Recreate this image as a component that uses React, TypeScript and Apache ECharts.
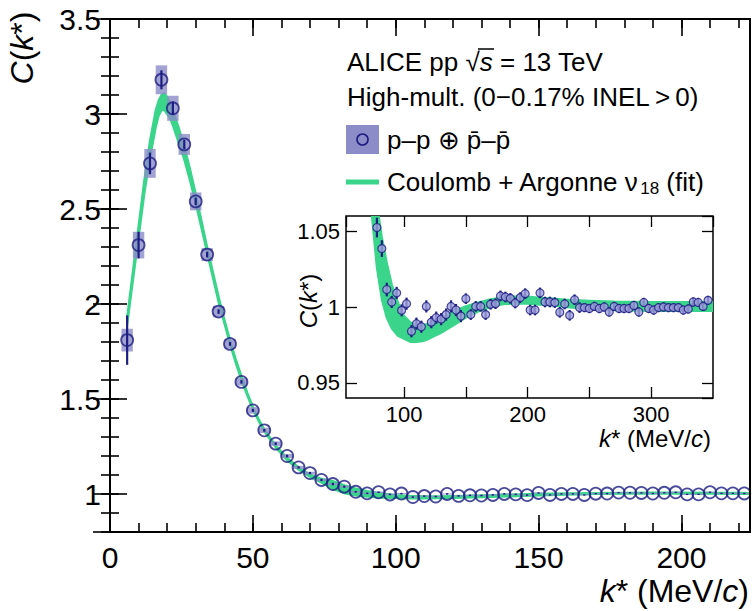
import React, { useEffect, useRef } from "react";
import * as echarts from "echarts";

// ---- data ----
const kStar = [
  6, 10, 14, 18, 22, 26, 30, 34, 38, 42, 46, 50, 54, 58, 62, 66, 70, 74, 78, 82,
  86, 90, 94, 98, 102, 106, 110, 114, 118, 122, 126, 130, 134, 138, 142, 146, 150, 154, 158, 162,
  166, 170, 174, 178, 182, 186, 190, 194, 198, 202, 206, 210, 214, 218, 222, 226, 230, 234, 238, 242,
  246, 250, 254, 258, 262, 266, 270, 274, 278, 282, 286, 290, 294, 298, 302, 306, 310, 314, 318, 322,
  326, 330, 334, 338, 342, 346,
];
const cValue = [
  1.81, 2.31, 2.74, 3.18, 3.03, 2.84, 2.54, 2.26, 1.96, 1.79, 1.59, 1.44, 1.335, 1.265, 1.2, 1.14, 1.11, 1.074, 1.0524, 1.0385,
  1.0115, 1.0033, 1.0093, 0.9978, 1.0022, 0.984, 0.989, 0.987, 1.0004, 0.99, 0.993, 0.992, 0.995, 1.0004, 0.998, 0.994, 1.0055, 0.995, 1.0004, 1.0004,
  0.995, 1.0018, 1.0022, 1.0073, 1.0066, 1.0057, 1.0026, 1.0062, 1.0088, 0.998, 0.998, 1.0093, 1.0033, 1.0033, 1.0029, 0.9965, 1.002, 0.9945, 1.0048, 0.9996,
  0.9996, 0.999, 1.0004, 0.999, 1.0, 0.9967, 1.0004, 0.999, 0.999, 0.999, 1.001, 0.9967, 1.003, 0.999, 0.998, 0.9996, 1.0, 0.9996, 0.9996, 0.9996,
  0.998, 0.9987, 1.0033, 1.003, 1.0004, 1.0044,
];
const statErr = [
  0.13, 0.07, 0.057, 0.05, 0.035, 0.025, 0.02, 0.015, 0.012, 0.01, 0.009, 0.008, 0.007, 0.007, 0.007, 0.006, 0.006, 0.006, 0.0065, 0.0055,
  0.0045, 0.004, 0.004, 0.004, 0.004, 0.004, 0.004, 0.004, 0.004, 0.004, 0.004, 0.004, 0.004, 0.004, 0.004, 0.004, 0.0035, 0.0035, 0.0035, 0.0035,
  0.0035, 0.0035, 0.0035, 0.0035, 0.0035, 0.0035, 0.0035, 0.0035, 0.0035, 0.0035, 0.0035, 0.0035, 0.0035, 0.0035, 0.0035, 0.0035, 0.0035, 0.0035, 0.0035, 0.0035,
  0.003, 0.003, 0.003, 0.003, 0.003, 0.003, 0.003, 0.003, 0.003, 0.003, 0.003, 0.003, 0.003, 0.003, 0.003, 0.003, 0.003, 0.003, 0.003, 0.003,
  0.003, 0.003, 0.003, 0.003, 0.003, 0.003,
];
const sysErr = [
  0.06, 0.07, 0.076, 0.076, 0.066, 0.055, 0.047, 0.034, 0.03, 0.025, 0.02, 0.017, 0.014, 0.012, 0.01, 0.008, 0.007, 0.006, 0.005, 0.005,
  0.004, 0.004, 0.004, 0.004, 0.003, 0.003, 0.003, 0.003, 0.003, 0.003, 0.003, 0.003, 0.003, 0.003, 0.003, 0.003, 0.003, 0.003, 0.003, 0.003,
  0.003, 0.003, 0.003, 0.003, 0.003, 0.003, 0.003, 0.003, 0.003, 0.003, 0.003, 0.003, 0.003, 0.003, 0.003, 0.003, 0.003, 0.003, 0.003, 0.003,
  0.003, 0.003, 0.003, 0.003, 0.003, 0.003, 0.003, 0.003, 0.003, 0.003, 0.003, 0.003, 0.003, 0.003, 0.003, 0.003, 0.003, 0.003, 0.003, 0.003,
  0.003, 0.003, 0.003, 0.003, 0.003, 0.003,
];

// fit band (Coulomb + Argonne v18)
const fitK = [
  6, 8, 10, 12, 14, 16, 17, 18, 19, 20, 21, 22, 24, 26, 28, 30, 32, 34, 36, 38,
  40, 42, 44, 46, 48, 50, 52, 54, 58, 62, 66, 70, 74, 78, 82, 86, 90, 95, 100, 105,
  110, 115, 120, 130, 140, 150, 160, 170, 180, 190, 200, 210, 220, 230, 250, 270, 300, 350,
];
const fitLow = [
  1.89, 2.12, 2.35, 2.58, 2.77, 2.93, 2.99, 3.02, 3.02, 3.0, 2.98, 2.94, 2.85, 2.76, 2.65, 2.53, 2.4, 2.27, 2.14, 2.01,
  1.9, 1.79, 1.69, 1.6, 1.52, 1.445, 1.385, 1.33, 1.245, 1.178, 1.128, 1.09, 1.06, 1.026, 1.005, 0.993, 0.986, 0.981, 0.979, 0.977,
  0.977, 0.9775, 0.979, 0.983, 0.988, 0.993, 0.997, 1.0, 1.0018, 1.0022, 1.0022, 1.0015, 1.001, 1.0, 0.9985, 0.998, 0.9975, 0.9975,
];
const fitHigh = [
  1.93, 2.17, 2.41, 2.65, 2.86, 3.02, 3.07, 3.1, 3.11, 3.09, 3.06, 3.02, 2.93, 2.83, 2.71, 2.58, 2.44, 2.3, 2.17, 2.04,
  1.92, 1.81, 1.71, 1.62, 1.535, 1.46, 1.395, 1.34, 1.255, 1.19, 1.14, 1.102, 1.08, 1.068, 1.046, 1.029, 1.015, 1.003, 0.994, 0.99,
  0.988, 0.988, 0.989, 0.993, 0.997, 1.0005, 1.003, 1.005, 1.0063, 1.0068, 1.0068, 1.006, 1.0055, 1.0048, 1.004, 1.0035, 1.0033, 1.0033,
];

const insetXLabels = [100, 200, 300];

const NAVY = "#1d1d82";
const GREEN = "#3ad58b";
const BOX = "#8c8cc8";
const FONT = "Liberation Sans, Arial, Helvetica, sans-serif";

const MAIN_LABEL = 30;
const MAIN_TITLE = 32;
const LEGEND = 26;
const INSET_LABEL = 22;
const INSET_TITLE = 24;

function clipOf(params: any) {
  const c = params.coordSys;
  return { type: "rect", shape: { x: c.x, y: c.y, width: c.width, height: c.height } };
}

function bandSeries(xi: number, yi: number) {
  return {
    type: "custom",
    xAxisIndex: xi,
    yAxisIndex: yi,
    silent: true,
    z: 1,
    data: [[fitK[0], fitLow[0]]],
    renderItem: (params: any, api: any) => {
      const pts: number[][] = [];
      for (let i = 0; i < fitK.length; i++) pts.push(api.coord([fitK[i], fitHigh[i]]));
      for (let i = fitK.length - 1; i >= 0; i--) pts.push(api.coord([fitK[i], fitLow[i]]));
      return {
        type: "polygon",
        shape: { points: pts },
        style: { fill: GREEN, stroke: GREEN, lineWidth: 2.2, lineJoin: "round" },
        clipPath: clipOf(params),
      };
    },
  };
}

function errSeries(xi: number, yi: number, width: number) {
  return {
    type: "custom",
    xAxisIndex: xi,
    yAxisIndex: yi,
    silent: true,
    z: 3,
    data: kStar.map((k, i) => [k, cValue[i], statErr[i]]),
    renderItem: (params: any, api: any) => {
      const k = api.value(0), c = api.value(1), e = api.value(2);
      const p1 = api.coord([k, c - e]);
      const p2 = api.coord([k, c + e]);
      return {
        type: "line",
        shape: { x1: p1[0], y1: p1[1], x2: p2[0], y2: p2[1] },
        style: { stroke: NAVY, lineWidth: width },
        clipPath: clipOf(params),
      };
    },
  };
}

function majorAxis(grid: number, pos: string, extra: any) {
  return Object.assign(
    {
      type: "value",
      gridIndex: grid,
      position: pos,
      axisLine: { show: false },
      splitLine: { show: false },
      axisTick: { show: true, inside: true, length: 17, lineStyle: { color: "#000", width: 1.6 } },
      axisLabel: { show: false },
    },
    extra
  );
}

function txt(x: number, y: number, text: string, size: number, align: string, rotation = 0, rich: any = null) {
  const style: any = {
    text, fill: "#000", font: `${size}px ${FONT}`,
    align, textAlign: align, verticalAlign: "middle", textVerticalAlign: "middle",
  };
  if (rich) style.rich = rich;
  return { type: "text", x, y, rotation, z: 10, style };
}

export default function App() {
  const ref = useRef<HTMLDivElement>(null);
  useEffect(() => {
    if (!ref.current) return;
    const chart = echarts.init(ref.current, undefined, { renderer: "svg" });
    const mainLabel = { show: true, color: "#000", fontSize: MAIN_LABEL, fontFamily: FONT };
    const insetLabel = { show: true, color: "#000", fontSize: INSET_LABEL, fontFamily: FONT };
    const minorTick = { show: true, inside: true, length: 9, lineStyle: { color: "#000", width: 1.6 } };
    const insetTick = { show: true, inside: true, length: 11, lineStyle: { color: "#000", width: 1.3 } };
    const italic = (s: number) => ({ i: { fontStyle: "italic", fontSize: s, fontFamily: FONT } });

    const option: any = {
      animation: false,
      textStyle: { fontFamily: FONT },
      grid: [
        { left: 110, top: 19, width: 640, height: 513, show: true, borderColor: "#000", borderWidth: 2, backgroundColor: "transparent", z: 5 },
        { left: 346, top: 216, width: 367, height: 182, show: true, borderColor: "#000", borderWidth: 1.5, backgroundColor: "#fff" },
      ],
      xAxis: [
        majorAxis(0, "bottom", { min: 0, max: 224, interval: 50, axisLabel: { ...mainLabel, margin: 10, showMaxLabel: false } }),
        majorAxis(0, "bottom", { min: 0, max: 224, interval: 10, axisTick: minorTick }),
        majorAxis(0, "top", { min: 0, max: 224, interval: 50 }),
        majorAxis(0, "top", { min: 0, max: 224, interval: 10, axisTick: minorTick }),
        majorAxis(1, "bottom", {
          min: 53, max: 350, splitNumber: 5, axisTick: insetTick,
          axisLabel: { ...insetLabel, margin: 5, showMinLabel: false, showMaxLabel: false,
            formatter: (v: number) => (insetXLabels.indexOf(Math.round(v)) >= 0 ? String(Math.round(v)) : "") },
        }),
        majorAxis(1, "top", { min: 53, max: 350, splitNumber: 5, axisTick: insetTick }),
      ],
      yAxis: [
        majorAxis(0, "left", { min: 0.8, max: 3.5, splitNumber: 5, axisLabel: { ...mainLabel, margin: 9, showMinLabel: false } }),
        majorAxis(0, "left", { min: 0.8, max: 3.5, interval: 0.1, axisTick: minorTick }),
        majorAxis(0, "right", { min: 0.8, max: 3.5, splitNumber: 5 }),
        majorAxis(0, "right", { min: 0.8, max: 3.5, interval: 0.1, axisTick: minorTick }),
        majorAxis(1, "left", { min: 0.94, max: 1.06, splitNumber: 2, axisTick: insetTick,
          axisLabel: { ...insetLabel, margin: 6, showMinLabel: false, showMaxLabel: false } }),
        majorAxis(1, "right", { min: 0.94, max: 1.06, splitNumber: 2, axisTick: insetTick }),
      ],
      series: [
        bandSeries(0, 0),
        {
          type: "custom",
          xAxisIndex: 0,
          yAxisIndex: 0,
          silent: true,
          z: 2,
          data: kStar.map((k, i) => [k, cValue[i], sysErr[i]]),
          renderItem: (params: any, api: any) => {
            const k = api.value(0), c = api.value(1), s = api.value(2);
            const a = api.coord([k - 2, c + s]);
            const b = api.coord([k + 2, c - s]);
            return {
              type: "rect",
              shape: { x: a[0], y: a[1], width: b[0] - a[0], height: b[1] - a[1] },
              style: { fill: BOX, opacity: 0.8 },
              clipPath: clipOf(params),
            };
          },
        },
        errSeries(0, 0, 2.2),
        {
          type: "scatter",
          xAxisIndex: 0,
          yAxisIndex: 0,
          z: 4,
          symbol: "circle",
          symbolSize: 12,
          silent: true,
          data: kStar.map((k, i) => [k, cValue[i]]),
          itemStyle: { color: "rgba(0,0,0,0)", borderColor: NAVY, borderWidth: 1.8 },
        },
        bandSeries(4, 4),
        errSeries(4, 4, 2.2),
        {
          type: "scatter",
          xAxisIndex: 4,
          yAxisIndex: 4,
          z: 4,
          symbol: "circle",
          symbolSize: 8,
          silent: true,
          data: kStar.map((k, i) => [k, cValue[i]]),
          itemStyle: { color: "#a2a2de", borderColor: NAVY, borderWidth: 1.2 },
        },
      ],
      graphic: [
        txt(22, 48, "{i|C}({i|k}*)", MAIN_TITLE, "center", Math.PI / 2, italic(MAIN_TITLE)),
        txt(749, 591, "{i|k}* (MeV/{i|c})", MAIN_TITLE, "right", 0, italic(MAIN_TITLE)),
        txt(308, 301, "{i|C}({i|k}*)", INSET_TITLE, "center", Math.PI / 2, italic(INSET_TITLE)),
        txt(711, 438, "{i|k}* (MeV/{i|c})", INSET_TITLE, "right", 0, italic(INSET_TITLE)),
        txt(347, 62, "ALICE pp \u221A{i|s} = 13 TeV", LEGEND, "left", 0, italic(LEGEND)),
        { type: "line", z: 10, shape: { x1: 478, y1: 49, x2: 494, y2: 49 }, style: { stroke: "#000", lineWidth: 1.5 } },
        txt(347, 97, "High-mult. (0\u22120.17% INEL\u2009>\u20090)", LEGEND, "left"),
        { type: "rect", z: 10, shape: { x: 346, y: 125, width: 33, height: 29 }, style: { fill: BOX } },
        { type: "circle", z: 11, shape: { cx: 362.5, cy: 139.5, r: 5.5 }, style: { fill: "none", stroke: NAVY, lineWidth: 1.6 } },
        txt(387, 140, "p\u2013p \u2295 p\u0304\u2013p\u0304", LEGEND, "left"),
        { type: "line", z: 10, shape: { x1: 346, y1: 182, x2: 379, y2: 182 }, style: { stroke: GREEN, lineWidth: 5 } },
        txt(387, 182, "Coulomb + Argonne \u03bd{sub|18} (fit)", LEGEND, "left", 0, {
          sub: { fontSize: 17, fontFamily: FONT, verticalAlign: "bottom", padding: [12, 0, 0, 1] },
        }),
      ],
    };
    chart.setOption(option);
    return () => chart.dispose();
  }, []);
  return (
    <div
      ref={ref}
      style={{ position: "fixed", left: 0, top: 0, width: 752, height: 611, background: "#fff" }}
    />
  );
}
